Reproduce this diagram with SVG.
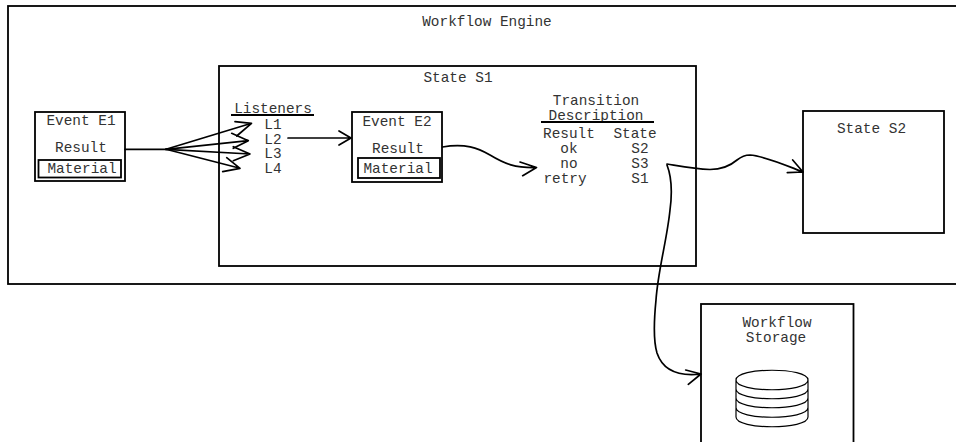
<svg xmlns="http://www.w3.org/2000/svg" width="956" height="442" viewBox="0 0 956 442">
<style>
.b{fill:none;stroke:#000;stroke-width:1.8}
.c{fill:none;stroke:#000;stroke-width:1.7;stroke-linecap:round;stroke-linejoin:round}
.d{fill:none;stroke:#000;stroke-width:1.2}
.t{font-family:"Liberation Mono","Courier New",monospace;font-size:14.4px;fill:#333;text-anchor:middle}
</style>
<rect width="956" height="442" fill="#fff"/>
<g id="engine"><rect class="b" x="8" y="6" width="960" height="278"/><text class="t" x="487" y="26">Workflow Engine</text></g>
<g id="s1"><rect class="b" x="219" y="66" width="477" height="200"/><text class="t" x="458" y="82">State S1</text></g>
<g id="e1"><rect class="b" x="35" y="112" width="90" height="69"/><text class="t" x="81" y="125">Event E1</text><text class="t" x="81" y="152">Result</text><rect class="b" x="38.5" y="160" width="82.5" height="17.5"/><text class="t" x="82" y="173">Material</text></g>
<g id="listeners"><text class="t" x="273" y="112.500">Listeners</text><path class="b" d="M231 115H314"/><text class="t" x="273" y="129">L1</text><text class="t" x="273" y="144">L2</text><text class="t" x="273" y="158">L3</text><text class="t" x="273" y="173">L4</text></g>
<g id="e2"><rect class="b" x="352" y="112" width="90" height="70"/><text class="t" x="397" y="126">Event E2</text><text class="t" x="398" y="153">Result</text><rect class="b" x="358" y="158" width="82" height="20"/><text class="t" x="398" y="172.500">Material</text></g>
<g id="transition"><text class="t" x="596" y="105">Transition</text><text class="t" x="596" y="120">Description</text><path class="b" d="M541 122H654"/><text class="t" x="569" y="138">Result</text><text class="t" x="635" y="138">State</text><text class="t" x="569" y="153">ok</text><text class="t" x="640" y="153">S2</text><text class="t" x="569" y="168">no</text><text class="t" x="640" y="168">S3</text><text class="t" x="565" y="182.500">retry</text><text class="t" x="640" y="182.500">S1</text></g>
<g id="s2"><rect class="b" x="803" y="111" width="141" height="122"/><text class="t" x="871.500" y="133">State S2</text></g>
<g id="storage"><rect class="b" x="701" y="304" width="152.500" height="150"/><text class="t" x="777" y="327">Workflow</text><text class="t" x="776" y="342">Storage</text>
<path class="d" d="M736 380C736 367 808 367 808 380C808 393 736 393 736 380V417C736 430 808 430 808 417V380M736 389C736 402 808 402 808 389M736 398C736 411 808 411 808 398M736 407.500C736 420.500 808 420.500 808 407.500"/></g>
<g id="connectors" class="c">
<path d="M125 149.300H166"/>
<path d="M166 149.300L251.500 123.300M235 121.700L251.500 123.300L236.700 136"/>
<path d="M166 149.300L248.300 140.700M231.700 133.300L248.300 140.700L233.300 148.300"/>
<path d="M166 149.300L250 154M233.300 146.700L250 154L233.300 160.700"/>
<path d="M166 149.300L240 168.300M226.700 157.700L240 168.300L222.700 171.700"/>
<path d="M288 138H351M339 131L351 138L339 145"/>
<path d="M442.500 147C465 143 478 148 490 155C505 164 515 168 536.500 167.500M520 162L536.500 167.500L522.700 175.700"/>
<path d="M667 164C685 167 695 169 710 169.500C722 169.500 730 166 737 160C742 156 746 155 750 155C765 156 785 165 803 172M792.700 160L803 172L787.300 172.700"/>
<path d="M667 165C672 178 672 195 670 210C667 240 658 270 656 300C654 320 653 340 657 353C662 368 675 377 701 374M685.700 370L701 374L688.300 384.300"/>
</g>
</svg>
